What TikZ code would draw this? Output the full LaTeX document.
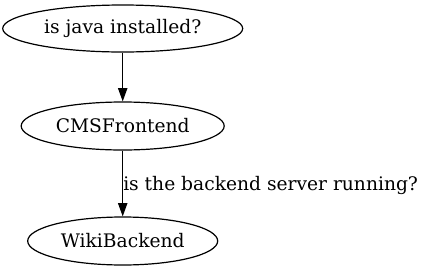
\documentclass[tikz,border=0pt]{standalone}
\usepackage{fontspec}
\setmainfont{DejaVu Serif}
\usetikzlibrary{shapes.geometric,arrows.meta}
\begin{document}
\begin{tikzpicture}[x=0.75pt,y=-0.75pt,
  gvnode/.style={draw,ellipse,line width=0.9pt,inner sep=0pt,font=\fontsize{14}{16}\selectfont},
  gvedge/.style={line width=0.9pt,-{Triangle[length=10pt,width=7pt]}},
  gvlabel/.style={font=\fontsize{14}{16}\selectfont,inner sep=0pt}]
\useasboundingbox (0,0) rectangle (426,272);
\node[gvnode,minimum width=240*0.75pt,minimum height=47*0.75pt] (java) at (122.7,28.5) {is java installed?};
\node[gvnode,minimum width=203*0.75pt,minimum height=48*0.75pt] (cms) at (122.7,126) {CMSFrontend};
\node[gvnode,minimum width=190*0.75pt,minimum height=48*0.75pt] (wiki) at (122.7,241) {WikiBackend};
\draw[gvedge] (java.south) -- (cms.north);
\draw[gvedge] (cms.south) -- (wiki.north);
\node[gvlabel,anchor=base west] (lbl) at (123,190) {is the backend server running?};
\end{tikzpicture}
\end{document}
